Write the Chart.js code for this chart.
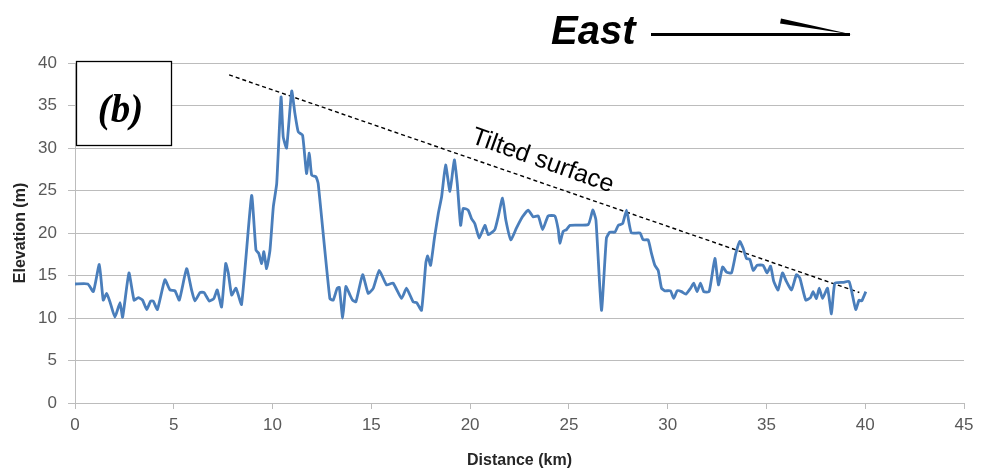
<!DOCTYPE html>
<html>
<head>
<meta charset="utf-8">
<title>Elevation profile</title>
<script src="https://cdn.jsdelivr.net/npm/chart.js@4/dist/chart.umd.min.js"></script>
<style>
  html, body { margin: 0; padding: 0; background: #ffffff; }
  #wrap { width: 982px; height: 473px; }
</style>
</head>
<body>
<div id="wrap"><canvas id="profile" width="982" height="473"></canvas></div>
<script>
// Surveyed elevation profile along the section line
const distanceKm = [
  0.00, 0.65, 0.93, 1.23, 1.43, 1.60, 1.77, 2.02, 2.28, 2.41,
  2.73, 2.99, 3.20, 3.42, 3.63, 3.83, 3.96, 4.17, 4.55, 4.81,
  5.06, 5.28, 5.65, 5.90, 6.07, 6.33, 6.53, 6.80, 7.03, 7.20,
  7.42, 7.63, 7.76, 7.93, 8.15, 8.43, 8.94, 9.16, 9.30, 9.45,
  9.56, 9.70, 9.87, 10.04, 10.21, 10.43, 10.54, 10.71, 10.97, 11.13,
  11.30, 11.52, 11.72, 11.86, 11.98, 12.20, 12.31, 12.90, 13.07, 13.27,
  13.38, 13.55, 13.71, 13.92, 14.05, 14.22, 14.56, 14.84, 15.10, 15.40,
  15.77, 16.10, 16.53, 16.78, 17.12, 17.30, 17.54, 17.76, 17.85, 18.00,
  18.20, 18.39, 18.56, 18.76, 18.98, 19.20, 19.35, 19.52, 19.65, 19.90,
  20.07, 20.24, 20.46, 20.75, 20.92, 21.25, 21.42, 21.64, 21.81, 22.06,
  22.35, 22.65, 22.94, 23.19, 23.45, 23.67, 23.95, 24.29, 24.46, 24.54,
  24.71, 24.88, 25.05, 25.98, 26.21, 26.37, 26.65, 26.90, 27.07, 27.33,
  27.50, 27.72, 27.92, 28.05, 28.17, 28.60, 28.76, 29.01, 29.18, 29.35,
  29.52, 29.69, 29.86, 30.14, 30.31, 30.48, 30.70, 30.92, 31.16, 31.32,
  31.49, 31.66, 31.83, 32.10, 32.39, 32.57, 32.78, 32.98, 33.23, 33.45,
  33.65, 33.82, 33.99, 34.16, 34.33, 34.53, 34.83, 35.03, 35.21, 35.37,
  35.59, 35.81, 36.01, 36.27, 36.52, 36.69, 36.99, 37.23, 37.36, 37.53,
  37.67, 37.84, 38.09, 38.29, 38.46, 38.88, 39.18, 39.30, 39.52, 39.69,
  39.82, 40.03
];
const elevationM = [
  14.0, 14.0, 13.1, 16.3, 12.1, 12.9, 11.9, 10.1, 11.8, 10.1,
  15.3, 12.1, 12.4, 12.1, 11.0, 12.0, 12.0, 11.0, 14.5, 13.3,
  13.2, 12.1, 15.8, 13.3, 12.0, 13.0, 13.0, 12.0, 12.3, 13.3,
  11.3, 16.4, 15.3, 12.7, 13.5, 11.6, 24.4, 18.0, 17.6, 16.4,
  17.8, 15.8, 18.0, 23.1, 25.8, 36.0, 31.3, 30.0, 36.7, 34.1,
  31.9, 31.5, 27.0, 29.4, 26.8, 26.6, 25.8, 12.3, 12.1, 13.5,
  13.6, 10.0, 13.7, 12.7, 12.1, 11.9, 15.1, 12.9, 13.5, 15.6,
  13.9, 14.1, 12.3, 13.5, 11.9, 11.8, 10.9, 16.5, 17.3, 16.2,
  19.5, 22.3, 24.3, 28.0, 24.9, 28.6, 25.8, 20.9, 22.9, 22.7,
  21.7, 21.1, 19.4, 20.9, 19.8, 20.4, 21.9, 24.1, 21.5, 19.2,
  20.6, 21.9, 22.7, 21.9, 22.0, 20.4, 22.0, 22.0, 20.4, 18.8,
  20.2, 20.4, 20.9, 21.0, 22.7, 21.5, 10.9, 19.4, 20.1, 20.1,
  20.9, 21.1, 22.7, 21.1, 20.0, 20.0, 19.2, 19.2, 17.6, 16.2,
  15.6, 13.5, 13.2, 13.2, 12.3, 13.2, 13.1, 12.8, 13.5, 14.1,
  13.1, 14.1, 13.1, 13.1, 17.0, 13.9, 16.0, 15.4, 15.3, 17.6,
  19.0, 18.2, 17.0, 16.9, 15.6, 16.2, 16.2, 15.3, 16.1, 14.3,
  13.3, 15.3, 14.3, 13.3, 15.1, 14.7, 12.1, 12.4, 13.1, 12.3,
  13.5, 12.3, 13.5, 10.5, 14.1, 14.2, 14.3, 13.3, 11.0, 12.1,
  12.0, 13.1
];

// Dashed guide along the tilted surface
const surfaceKm = [7.8, 39.7];
const surfaceM = [38.6, 13.0];

// Axis ranges and tick spacing
const xTicks = [0, 5, 10, 15, 20, 25, 30, 35, 40, 45];
const yTicks = [0, 5, 10, 15, 20, 25, 30, 35, 40];

const xTitle = 'Distance (km)';
const yTitle = 'Elevation (m)';
const panelLabel = '(b)';
const directionLabel = 'East';
const surfaceLabel = 'Tilted surface';
// Where the surface label sits, in data units
const surfaceLabelAt = { x: 23.55, y: 27.7 };

const profilePoints = distanceKm.map((d, i) => ({ x: d, y: elevationM[i] }));
const surfacePoints = surfaceKm.map((d, i) => ({ x: d, y: surfaceM[i] }));

const GRID = '#bcbcbc';
const TICK_TEXT = '#595959';

// Draws the panel tag, the direction arrow and the surface label
const annotations = {
  id: 'annotations',
  afterDraw(chart) {
    const ctx = chart.ctx;
    const xs = chart.scales.x;
    const ys = chart.scales.y;
    const area = chart.chartArea;
    ctx.save();

    // Panel tag box in the upper-left corner of the plot
    const bx = area.left + 1, by = area.top - 2, bw = 95, bh = 84;
    ctx.fillStyle = '#ffffff';
    ctx.fillRect(bx, by, bw, bh);
    ctx.strokeStyle = '#000000';
    ctx.lineWidth = 1.3;
    ctx.strokeRect(bx + 0.5, by + 0.5, bw, bh);
    ctx.fillStyle = '#000000';
    ctx.font = 'italic bold 39px "Liberation Serif", "DejaVu Serif", serif';
    ctx.textAlign = 'center';
    ctx.textBaseline = 'middle';
    ctx.fillText(panelLabel, bx + bw / 2 - 3, by + 51);

    // Direction word and arrow above the plot
    ctx.font = 'italic bold 40px "Liberation Sans", Arial, sans-serif';
    ctx.textAlign = 'left';
    ctx.textBaseline = 'alphabetic';
    ctx.fillText(directionLabel, 551, 44);
    ctx.lineWidth = 3;
    ctx.lineCap = 'butt';
    ctx.beginPath();
    ctx.moveTo(651, 34.5);
    ctx.lineTo(850, 34.5);
    ctx.stroke();
    ctx.beginPath();
    ctx.moveTo(781, 18.5);
    ctx.lineTo(852, 34.5);
    ctx.lineTo(780, 23.5);
    ctx.closePath();
    ctx.fill();

    // Label along the dashed surface line
    const sx = xs.getPixelForValue(surfaceLabelAt.x);
    const sy = ys.getPixelForValue(surfaceLabelAt.y);
    const p0x = xs.getPixelForValue(surfaceKm[0]);
    const p0y = ys.getPixelForValue(surfaceM[0]);
    const p1x = xs.getPixelForValue(surfaceKm[1]);
    const p1y = ys.getPixelForValue(surfaceM[1]);
    const angle = Math.atan2(p1y - p0y, p1x - p0x) + 0.01;
    ctx.translate(sx, sy);
    ctx.rotate(angle);
    ctx.font = '25px "Liberation Sans", Arial, sans-serif';
    ctx.textAlign = 'center';
    ctx.textBaseline = 'alphabetic';
    ctx.fillText(surfaceLabel, 0, 0);
    ctx.restore();
  }
};

new Chart(document.getElementById('profile'), {
  type: 'line',
  data: {
    datasets: [
      {
        label: 'Elevation',
        data: profilePoints,
        borderColor: '#4a7ebb',
        borderWidth: 2.8,
        pointRadius: 0,
        tension: 0.15,
        fill: false
      },
      {
        label: 'Tilted surface',
        data: surfacePoints,
        borderColor: '#000000',
        borderWidth: 1.4,
        borderDash: [4, 3],
        pointRadius: 0,
        fill: false
      }
    ]
  },
  options: {
    responsive: false,
    animation: false,
    devicePixelRatio: 1,
    layout: { padding: { top: 63, right: 18, left: 0, bottom: 0 } },
    plugins: {
      legend: { display: false },
      tooltip: { enabled: false }
    },
    scales: {
      x: {
        type: 'linear',
        min: xTicks[0],
        max: xTicks[xTicks.length - 1],
        afterBuildTicks(scale) { scale.ticks = xTicks.map(v => ({ value: v })); },
        afterFit(scale) { scale.height = 70; },
        ticks: {
          color: TICK_TEXT,
          font: { family: '"Liberation Sans", Arial, sans-serif', size: 17 },
          padding: 6,
          maxRotation: 0
        },
        grid: { drawOnChartArea: false, drawTicks: true, tickLength: 6, color: GRID },
        border: { display: true, color: GRID, width: 1 },
        title: {
          display: true,
          text: xTitle,
          color: '#262626',
          font: { family: '"Liberation Sans", Arial, sans-serif', size: 16, weight: 'bold' },
          padding: { top: 0, bottom: 3 }
        }
      },
      y: {
        type: 'linear',
        min: yTicks[0],
        max: yTicks[yTicks.length - 1],
        afterBuildTicks(scale) { scale.ticks = yTicks.map(v => ({ value: v })); },
        afterFit(scale) { scale.width = 75; },
        ticks: {
          color: TICK_TEXT,
          font: { family: '"Liberation Sans", Arial, sans-serif', size: 17 },
          padding: 11
        },
        grid: { drawOnChartArea: true, drawTicks: true, tickLength: 7, color: GRID, lineWidth: 1 },
        border: { display: true, color: GRID, width: 1 },
        title: {
          display: true,
          text: yTitle,
          color: '#262626',
          font: { family: '"Liberation Sans", Arial, sans-serif', size: 16, weight: 'bold' },
          padding: { top: 11, bottom: 0 }
        }
      }
    }
  },
  plugins: [annotations]
});
</script>
</body>
</html>
